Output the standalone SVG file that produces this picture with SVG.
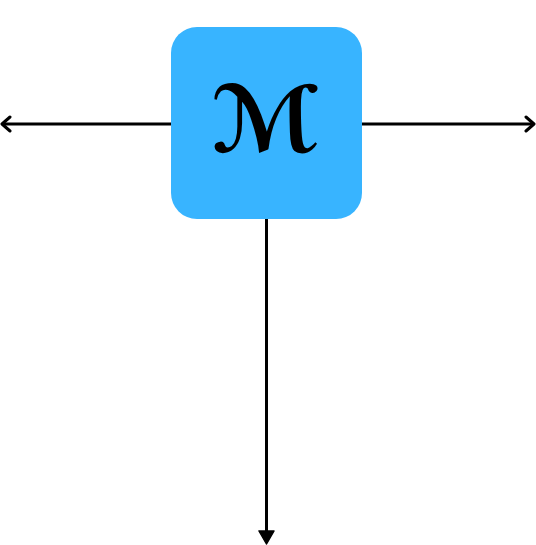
<svg xmlns="http://www.w3.org/2000/svg" width="536" height="545" viewBox="0 0 536 545">
<style>
.conn{stroke:#000;stroke-width:3;fill:none}
.head{stroke:#000;stroke-width:3;fill:none;stroke-linecap:round;stroke-linejoin:round}
.node{fill:#38b4ff}
.lbl{font-family:"DejaVu Sans",sans-serif;font-size:92px;font-weight:bold;fill:#000}
</style>
<rect width="536" height="545" fill="#fff"/>
<g id="connectors">
<line class="conn" x1="171" y1="124" x2="3" y2="124"/>
<polyline class="head" points="10,117 2,124 10,131"/>
<line class="conn" x1="362" y1="124" x2="533" y2="124"/>
<polyline class="head" points="526,117 534,124 526,131"/>
<line class="conn" x1="266.5" y1="219" x2="266.5" y2="540"/>
<polygon points="259,531 274,531 266.5,544" fill="#000" stroke="#000" stroke-width="1.5" stroke-linejoin="round"/>
</g>
<g id="node-M">
<rect class="node" x="171" y="27" width="191" height="192" rx="26"/>
<text class="lbl" x="265.5" y="152" text-anchor="middle">ℳ</text>
</g>
</svg>
